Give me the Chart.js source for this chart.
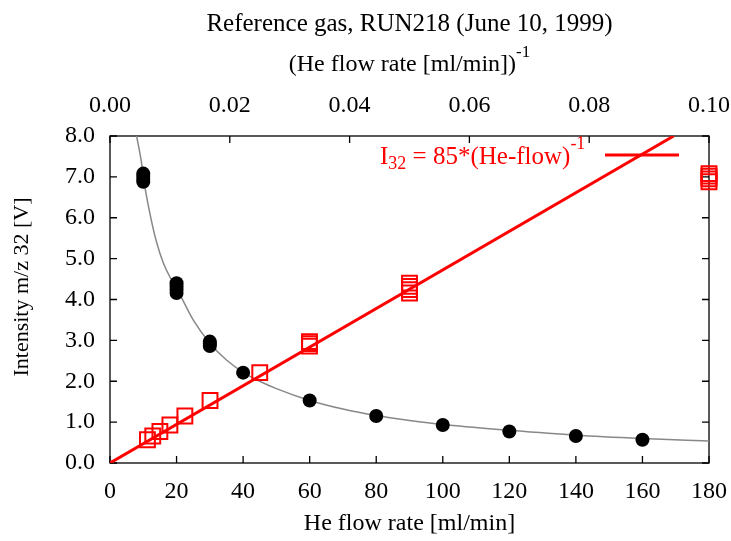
<!DOCTYPE html>
<html>
<head>
<meta charset="utf-8">
<script src="https://cdn.jsdelivr.net/npm/chart.js@4.4.1/dist/chart.umd.min.js"></script>
<style>
  body { margin: 0; background: #fff; }
  #wrap { width: 731px; height: 541px; position: relative; }
</style>
</head>
<body>
<div id="wrap"><canvas id="grafico"></canvas></div>
<script>
// datos
const flujo = [10, 10, 10, 10, 20, 20, 20, 20, 30, 30, 30, 40, 60, 80, 100, 120, 140, 160];
const flujoInv = [0.1, 0.1, 0.1, 0.1, 0.05, 0.05, 0.05, 0.05, 0.0333, 0.0333, 0.0333, 0.025, 0.0167, 0.0125, 0.01, 0.00833, 0.00714, 0.00625];
const intensidad = [6.88, 6.95, 7.02, 7.08, 4.16, 4.24, 4.32, 4.40, 2.86, 2.92, 2.97, 2.21, 1.53, 1.15, 0.93, 0.77, 0.66, 0.57];

// curva gris (ajuste)
const curvaFlujo = [8, 9.5, 10, 12, 14, 16, 18, 20, 25, 30, 35, 40, 45, 50, 60, 70, 80, 90, 100, 120, 140, 160, 180];
const curvaInt = [8.0, 7.33, 7.0, 6.1, 5.4, 4.9, 4.55, 4.28, 3.5, 2.93, 2.52, 2.22, 2.0, 1.82, 1.53, 1.32, 1.16, 1.04, 0.94, 0.80, 0.68, 0.60, 0.54];

// recta roja I32 = 85*(He-flow)^-1
const rectaInv = [0, 0.0941];
const rectaInt = [0, 8];

const ticksFlujo = [0, 20, 40, 60, 80, 100, 120, 140, 160, 180];
const ticksInv = [0, 0.02, 0.04, 0.06, 0.08, 0.1];
const ticksInt = [0, 1, 2, 3, 4, 5, 6, 7, 8];

const fuente = 'Liberation Serif';
const tamTexto = 24;

function puntos(xs, ys) {
    var res = [];
    for (var i = 0; i < xs.length; i++) {
        res.push({ x: xs[i], y: ys[i] });
    }
    return res;
}

// escribe texto con sub/superindices, partes = [[texto, tipo]]
function textoCompuesto(ctx, partes, x, y, tam) {
    var cx = x;
    for (var i = 0; i < partes.length; i++) {
        var t = partes[i][0], tipo = partes[i][1];
        var size = tipo ? Math.round(tam * 0.72) : tam;
        var dy = tipo == 'sup' ? -tam * 0.5 : (tipo == 'sub' ? tam * 0.3 : 0);
        ctx.font = size + 'px "' + fuente + '"';
        ctx.fillText(t, cx, y + dy);
        cx += ctx.measureText(t).width;
    }
    return cx - x;
}

function anchoCompuesto(ctx, partes, tam) {
    var w = 0;
    for (var i = 0; i < partes.length; i++) {
        var size = partes[i][1] ? Math.round(tam * 0.72) : tam;
        ctx.font = size + 'px "' + fuente + '"';
        w += ctx.measureText(partes[i][0]).width;
    }
    return w;
}

function sinRelleno(s) {
    s.paddingLeft = 0; s.paddingRight = 0;
    s.paddingTop = 0; s.paddingBottom = 0;
}

const marcoPlugin = {
    id: 'marco',
    beforeDatasetsDraw(chart) {
        const ctx = chart.ctx;
        const a = chart.chartArea;
        const sx = chart.scales.x, sx2 = chart.scales.x2, sy = chart.scales.y;
        const largo = 7;
        ctx.save();
        ctx.strokeStyle = '#000';
        ctx.lineWidth = 1.3;
        ctx.strokeRect(a.left, a.top, a.right - a.left, a.bottom - a.top);
        ctx.beginPath();
        ticksFlujo.forEach(v => {
            const px = sx.getPixelForValue(v);
            ctx.moveTo(px, a.bottom); ctx.lineTo(px, a.bottom - largo);
        });
        ticksInv.forEach(v => {
            const px = sx2.getPixelForValue(v);
            ctx.moveTo(px, a.top); ctx.lineTo(px, a.top + largo);
        });
        ticksInt.forEach(v => {
            const py = sy.getPixelForValue(v);
            ctx.moveTo(a.left, py); ctx.lineTo(a.left + largo, py);
            ctx.moveTo(a.right, py); ctx.lineTo(a.right - largo, py);
        });
        ctx.stroke();
        ctx.restore();
    },
    afterDraw(chart) {
        const ctx = chart.ctx;
        const a = chart.chartArea;
        const cx = (a.left + a.right) / 2;
        ctx.save();
        ctx.fillStyle = '#000';
        ctx.textBaseline = 'middle';
        ctx.textAlign = 'center';
        ctx.font = '25px "' + fuente + '"';
        ctx.fillText('Reference gas, RUN218 (June 10, 1999)', cx, 24);
        ctx.font = tamTexto + 'px "' + fuente + '"';
        ctx.fillText('He flow rate [ml/min]', cx, 524);

        ctx.textAlign = 'left';
        var sup = [['(He flow rate [ml/min])', ''], ['-1', 'sup']];
        var w = anchoCompuesto(ctx, sup, tamTexto);
        textoCompuesto(ctx, sup, cx - w / 2, 65, tamTexto);

        ctx.save();
        ctx.translate(22, 287);
        ctx.rotate(-Math.PI / 2);
        ctx.textAlign = 'center';
        ctx.font = '22px "' + fuente + '"';
        ctx.fillText('Intensity m/z 32 [V]', 0, 0);
        ctx.restore();

        // leyenda
        ctx.fillStyle = '#ff0000';
        var ley = [['I', ''], ['32', 'sub'], [' = 85*(He-flow)', ''], ['-1', 'sup']];
        textoCompuesto(ctx, ley, 380, 157, 25);
        ctx.strokeStyle = '#ff0000';
        ctx.lineWidth = 3;
        ctx.beginPath();
        ctx.moveTo(605, 155);
        ctx.lineTo(679, 155);
        ctx.stroke();
        ctx.restore();
    }
};

const ctx = document.getElementById('grafico');

new Chart(ctx, {
    type: 'scatter',
    data: {
        datasets: [{
            label: 'ajuste',
            data: puntos(curvaFlujo, curvaInt),
            xAxisID: 'x', yAxisID: 'y',
            showLine: true,
            cubicInterpolationMode: 'monotone',
            borderColor: '#888888',
            borderWidth: 1.5,
            pointRadius: 0,
            order: 4
        }, {
            label: 'I32 = 85*(He-flow)^-1',
            data: puntos(rectaInv, rectaInt),
            xAxisID: 'x2', yAxisID: 'y',
            showLine: true,
            borderColor: '#ff0000',
            borderWidth: 3,
            pointRadius: 0,
            order: 3
        }, {
            label: 'Intensidad vs flujo',
            data: puntos(flujo, intensidad),
            xAxisID: 'x', yAxisID: 'y',
            pointStyle: 'circle',
            pointRadius: 7,
            backgroundColor: '#000',
            borderWidth: 0,
            clip: false,
            order: 2
        }, {
            label: 'Intensidad vs flujo^-1',
            data: puntos(flujoInv, intensidad),
            xAxisID: 'x2', yAxisID: 'y',
            pointStyle: 'rect',
            pointRadius: 10.5,
            backgroundColor: 'rgba(0,0,0,0)',
            borderColor: '#ff0000',
            borderWidth: 2,
            clip: false,
            order: 1
        }]
    },
    options: {
        responsive: true,
        maintainAspectRatio: false,
        animation: false,
        layout: { padding: 0 },
        plugins: {
            legend: { display: false },
            tooltip: { enabled: false }
        },
        scales: {
            x: {
                type: 'linear', position: 'bottom', min: 0, max: 180,
                grid: { display: false, drawTicks: false },
                border: { display: false },
                ticks: { stepSize: 20, color: '#000', padding: 14, maxRotation: 0, font: { family: fuente, size: tamTexto } },
                afterFit: function (s) { s.height = 78; sinRelleno(s); }
            },
            x2: {
                type: 'linear', position: 'top', min: 0, max: 0.1,
                grid: { display: false, drawTicks: false },
                border: { display: false },
                ticks: { stepSize: 0.02, color: '#000', padding: 16, maxRotation: 0, font: { family: fuente, size: tamTexto },
                    callback: v => v.toFixed(2) },
                afterFit: function (s) { s.height = 136; sinRelleno(s); }
            },
            y: {
                type: 'linear', position: 'left', min: 0, max: 8,
                grid: { display: false, drawTicks: false },
                border: { display: false },
                ticks: { stepSize: 1, color: '#000', padding: 15, font: { family: fuente, size: tamTexto },
                    callback: v => v.toFixed(1) },
                afterFit: function (s) { s.width = 110; sinRelleno(s); }
            },
            y2: {
                type: 'linear', position: 'right', min: 0, max: 8,
                grid: { display: false, drawTicks: false },
                border: { display: false },
                ticks: { display: false },
                afterFit: function (s) { s.width = 22; sinRelleno(s); }
            }
        }
    },
    plugins: [marcoPlugin]
});
</script>
</body>
</html>
